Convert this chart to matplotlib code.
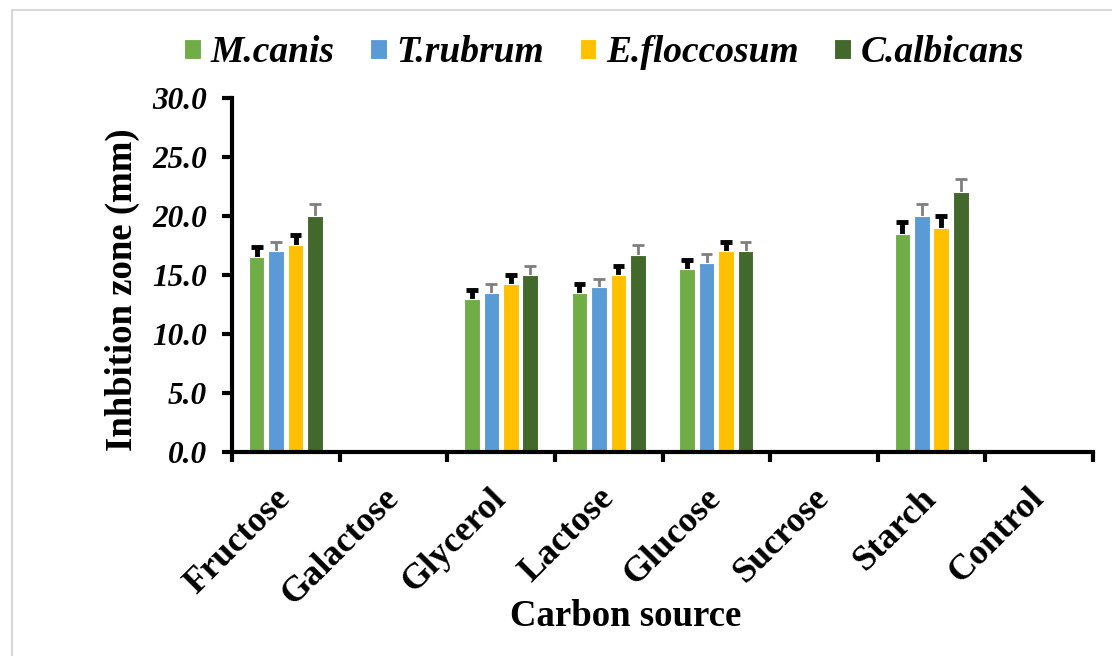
import matplotlib.pyplot as plt
import numpy as np
from matplotlib.patches import Rectangle

categories = ['Fructose', 'Galactose', 'Glycerol', 'Lactose', 'Glucose', 'Sucrose', 'Starch', 'Control']
series = ['M.canis', 'T.rubrum', 'E.floccosum', 'C.albicans']

m_canis = [16.5, 0, 13.0, 13.5, 15.5, 0, 18.5, 0]
t_rubrum = [17.0, 0, 13.5, 14.0, 16.0, 0, 20.0, 0]
e_floccosum = [17.5, 0, 14.2, 15.0, 17.0, 0, 19.0, 0]
c_albicans = [20.0, 0, 15.0, 16.7, 17.0, 0, 22.0, 0]

m_canis_err = [0.9, 0, 0.7, 0.7, 0.8, 0, 1.0, 0]
t_rubrum_err = [0.8, 0, 0.7, 0.7, 0.8, 0, 1.0, 0]
e_floccosum_err = [0.9, 0, 0.8, 0.8, 0.8, 0, 1.0, 0]
c_albicans_err = [1.0, 0, 0.8, 0.8, 0.8, 0, 1.1, 0]

colors = ['#70AD47', '#5B9BD5', '#FFC000', '#43682B']
err_colors = ['black', '#7f7f7f', 'black', '#7f7f7f']
err_lw = [3.5, 2, 3.5, 2]

plt.rcParams['font.family'] = ['Liberation Serif']
plt.rcParams['font.weight'] = 'bold'

fig = plt.figure(figsize=(11.12, 6.56), dpi=100)
ax = fig.add_axes([232/1112, 1-452/656, (1093-232)/1112, (452-98)/656])

values = [m_canis, t_rubrum, e_floccosum, c_albicans]
errs = [m_canis_err, t_rubrum_err, e_floccosum_err, c_albicans_err]

ind = np.arange(len(categories))
step = 0.181
width = 0.145
cap = 0.055
handles = []
for i in range(4):
    x = ind + (i - 1.5) * step
    vals = np.array(values[i])
    er = np.array(errs[i])
    mask = vals > 0
    b = ax.bar(x, vals, width, color=colors[i], edgecolor='white', linewidth=0.8, label=series[i], zorder=2)
    # upper error bars only
    ax.vlines(x[mask], vals[mask], vals[mask] + er[mask], colors=err_colors[i], linewidth=err_lw[i], zorder=1)
    ax.hlines(vals[mask] + er[mask], x[mask] - cap, x[mask] + cap, colors=err_colors[i], linewidth=err_lw[i], zorder=1)
    handles.append(b)

ax.set_xlim(-0.5, len(categories) - 0.5)
ax.set_ylim(0, 30)
ax.set_yticks(np.arange(0, 31, 5))
ax.set_yticklabels(['%.1f' % v for v in np.arange(0, 31, 5)], fontsize=22.5, fontstyle='italic', fontweight='bold')

ax.set_xticks(ind)
ax.set_xticklabels(categories, rotation=45, ha='right', va='center', rotation_mode='anchor', fontsize=26, fontweight='bold')
ax.tick_params(axis='x', which='major', length=0, pad=30)
ax.set_xticks(np.arange(-0.5, len(categories), 1), minor=True)
ax.tick_params(axis='x', which='minor', length=7, width=3, direction='out')
ax.tick_params(axis='y', length=7, width=3, direction='out', pad=11)

for s in ['top', 'right']:
    ax.spines[s].set_visible(False)
for s in ['left', 'bottom']:
    ax.spines[s].set_linewidth(3)

fig.text(122/1112, 1-290/656, 'Inhbition zone (mm)', rotation=90, ha='center', va='center', fontsize=26.5, fontweight='bold')
fig.text(626/1112, 1-617/656, 'Carbon source', ha='center', va='center', fontsize=26.5, fontweight='bold')

fig.legend(handles, series, loc='center', bbox_to_anchor=(604/1112, 1-53/656), ncol=4, frameon=False,
           prop={'family': 'Liberation Serif', 'style': 'italic', 'weight': 'bold', 'size': 27},
           handlelength=0.45, handleheight=0.45, handletextpad=0.25, columnspacing=0.95)

fig.patches.append(Rectangle((12/1112, -0.01), 1.1, 1-10/656 + 0.01, transform=fig.transFigure,
                             fill=False, edgecolor='#d9d9d9', linewidth=1.5))

fig.savefig('out.png', dpi=100)
